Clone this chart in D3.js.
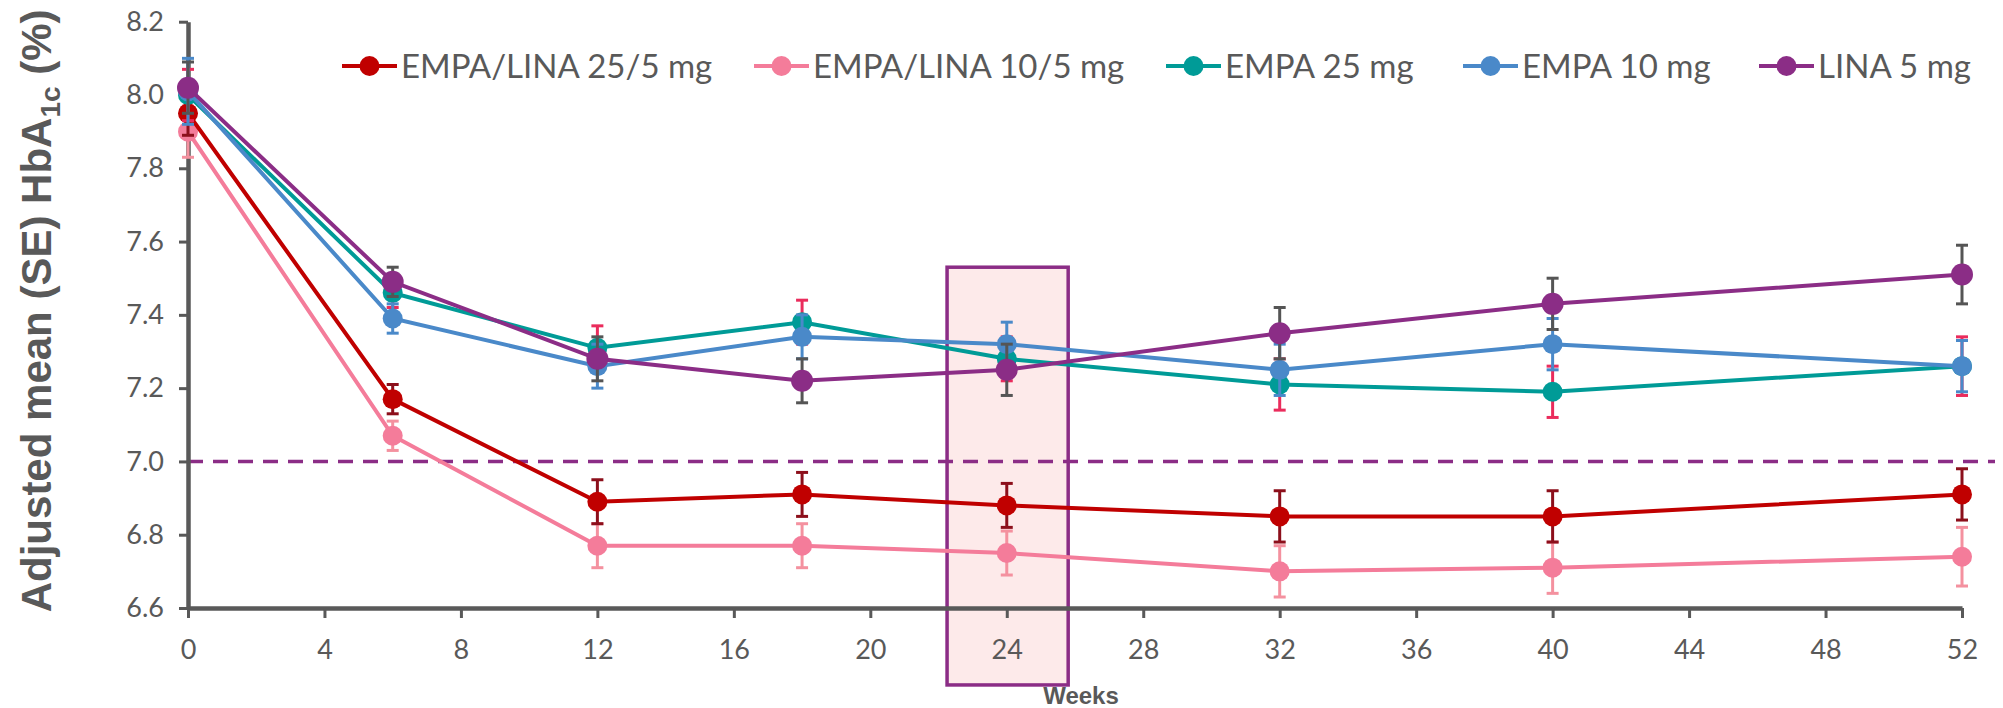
<!DOCTYPE html>
<html>
<head>
<meta charset="utf-8">
<script src="https://cdn.jsdelivr.net/npm/d3@7"></script>
<style>
  body { margin: 0; background: #fff; }
  svg text { font-family: "Lato", "DejaVu Sans", sans-serif; fill: #595959; }
</style>
</head>
<body>
<div id="chart"></div>
<script>
const weeks = [0, 6, 12, 18, 24, 32, 40, 52];
const xTicks = [0, 4, 8, 12, 16, 20, 24, 28, 32, 36, 40, 44, 48, 52];
const yTicks = [6.6, 6.8, 7.0, 7.2, 7.4, 7.6, 7.8, 8.0, 8.2];

const seriesNames = ['EMPA/LINA 25/5 mg', 'EMPA/LINA 10/5 mg', 'EMPA 25 mg', 'EMPA 10 mg', 'LINA 5 mg'];

const empaLina25 = [7.95, 7.17, 6.89, 6.91, 6.88, 6.85, 6.85, 6.91];
const empaLina10 = [7.90, 7.07, 6.77, 6.77, 6.75, 6.70, 6.71, 6.74];
const empa25 = [8.00, 7.46, 7.31, 7.38, 7.28, 7.21, 7.19, 7.26];
const empa10 = [8.01, 7.39, 7.26, 7.34, 7.32, 7.25, 7.32, 7.26];
const lina5 = [8.02, 7.49, 7.28, 7.22, 7.25, 7.35, 7.43, 7.51];

const seEmpaLina25 = [0.06, 0.04, 0.06, 0.06, 0.06, 0.07, 0.07, 0.07];
const seEmpaLina10 = [0.07, 0.04, 0.06, 0.06, 0.06, 0.07, 0.07, 0.08];
const seEmpa25 = [0.07, 0.04, 0.06, 0.06, 0.06, 0.07, 0.07, 0.08];
const seEmpa10 = [0.09, 0.04, 0.06, 0.06, 0.06, 0.07, 0.07, 0.07];
const seLina5 = [0.07, 0.04, 0.06, 0.06, 0.07, 0.07, 0.07, 0.08];

const targetLine = 7.0;
const highlight = { x0: 22.25, x1: 25.8, y0: 6.39, y1: 7.53 };

const lineColors = ['#c00000', '#f47c9a', '#009b97', '#4a89c9', '#8b2d86'];
const errColors = ['#8c0f1b', '#f4919f', '#ea2c5c', '#4a89c9', '#555555'];

const width = 2003;
const height = 708;

const data = [empaLina25, empaLina10, empa25, empa10, lina5].map((vals, i) => ({
  name: seriesNames[i],
  color: lineColors[i],
  errColor: errColors[i],
  values: vals.map((v, j) => ({
    week: weeks[j],
    value: v,
    se: [seEmpaLina25, seEmpaLina10, seEmpa25, seEmpa10, seLina5][i][j]
  }))
}));

const x = d3.scaleLinear().domain([0, 52]).range([188, 1962]);
const y = d3.scaleLinear().domain([6.6, 8.2]).range([608, 21.7]);

const svg = d3.select('#chart').append('svg')
  .attr('width', width)
  .attr('height', height);

// highlighted week 24 box
svg.append('rect')
  .attr('x', x(highlight.x0))
  .attr('y', y(highlight.y1))
  .attr('width', x(highlight.x1) - x(highlight.x0))
  .attr('height', y(highlight.y0) - y(highlight.y1))
  .style('fill', '#fdeaea')
  .style('stroke', '#8b2d86')
  .style('stroke-width', 3.5);

// target line
svg.append('line')
  .attr('x1', x(0))
  .attr('x2', 1995)
  .attr('y1', y(targetLine))
  .attr('y2', y(targetLine))
  .style('stroke', '#8b2d86')
  .style('stroke-width', 3.5)
  .style('stroke-dasharray', '15 10');

// axes
const xAxis = g => g
  .attr('transform', `translate(0,${y(6.6)})`)
  .call(d3.axisBottom(x).tickValues(xTicks).tickSize(10).tickSizeOuter(0).tickPadding(22))
  .call(g => g.select('.domain').style('stroke', '#595959').style('stroke-width', 4.5))
  .call(g => g.selectAll('.tick line').style('stroke', '#595959').style('stroke-width', 3))
  .call(g => g.selectAll('.tick text').style('font-size', '27px').style('fill', '#595959'));

const yAxis = g => g
  .attr('transform', `translate(${x(0)},0)`)
  .call(d3.axisLeft(y).tickValues(yTicks).tickFormat(d3.format('.1f')).tickSize(9).tickSizeOuter(0).tickPadding(15))
  .call(g => g.select('.domain').style('stroke', '#595959').style('stroke-width', 4.5))
  .call(g => g.selectAll('.tick line').style('stroke', '#595959').style('stroke-width', 3))
  .call(g => g.selectAll('.tick text').style('font-size', '27px').style('fill', '#595959'));

svg.append('g').attr('class', 'x axis').call(xAxis);
svg.append('g').attr('class', 'y axis').call(yAxis);

// axis titles
const yTitle = svg.append('text')
  .attr('transform', `translate(51,${(y(8.2) + y(6.6)) / 2 - 4}) rotate(-90)`)
  .attr('text-anchor', 'middle')
  .style('font-family', '"Liberation Sans", Arial, sans-serif')
  .style('font-weight', 'bold')
  .style('font-size', '42px');
yTitle.append('tspan').text('Adjusted mean (SE) HbA');
yTitle.append('tspan').text('1c').attr('dy', 9).style('font-size', '28px');
yTitle.append('tspan').text(' (%)').attr('dy', -9);

svg.append('text')
  .attr('x', 1081)
  .attr('y', 704)
  .attr('text-anchor', 'middle')
  .style('font-family', '"Liberation Sans", Arial, sans-serif')
  .style('font-weight', 'bold')
  .style('font-size', '24px')
  .text('Weeks');

// series
const line = d3.line()
  .x(d => x(d.week))
  .y(d => y(d.value));

const drawOrder = [1, 0, 2, 3, 4];
drawOrder.forEach(i => {
  const s = data[i];
  const g = svg.append('g').attr('class', 'series');

  g.append('path')
    .attr('d', line(s.values))
    .style('fill', 'none')
    .style('stroke', s.color)
    .style('stroke-width', 4);

  const eb = g.selectAll('.err')
    .data(s.values)
    .join('g')
    .attr('class', 'err')
    .style('stroke', s.errColor)
    .style('stroke-width', 3);

  eb.append('line')
    .attr('x1', d => x(d.week)).attr('x2', d => x(d.week))
    .attr('y1', d => y(d.value + d.se)).attr('y2', d => y(d.value - d.se));
  eb.append('line')
    .attr('x1', d => x(d.week) - 6).attr('x2', d => x(d.week) + 6)
    .attr('y1', d => y(d.value + d.se)).attr('y2', d => y(d.value + d.se));
  eb.append('line')
    .attr('x1', d => x(d.week) - 6).attr('x2', d => x(d.week) + 6)
    .attr('y1', d => y(d.value - d.se)).attr('y2', d => y(d.value - d.se));

  g.selectAll('circle')
    .data(s.values)
    .join('circle')
    .attr('cx', d => x(d.week))
    .attr('cy', d => y(d.value))
    .attr('r', i === 4 ? 11 : 10)
    .style('fill', s.color);
});

// legend
const legendX = [342, 754, 1166, 1463, 1759];
const legend = svg.append('g').attr('class', 'legend');
data.forEach((s, i) => {
  const item = legend.append('g').attr('transform', `translate(${legendX[i]},66)`);
  item.append('line')
    .attr('x1', 0).attr('x2', 55)
    .style('stroke', s.color)
    .style('stroke-width', 4);
  item.append('circle')
    .attr('cx', 27.5).attr('r', 10)
    .style('fill', s.color);
  item.append('text')
    .attr('x', 59)
    .attr('y', 12)
    .style('font-size', '33px')
    .text(s.name);
});
</script>
</body>
</html>
